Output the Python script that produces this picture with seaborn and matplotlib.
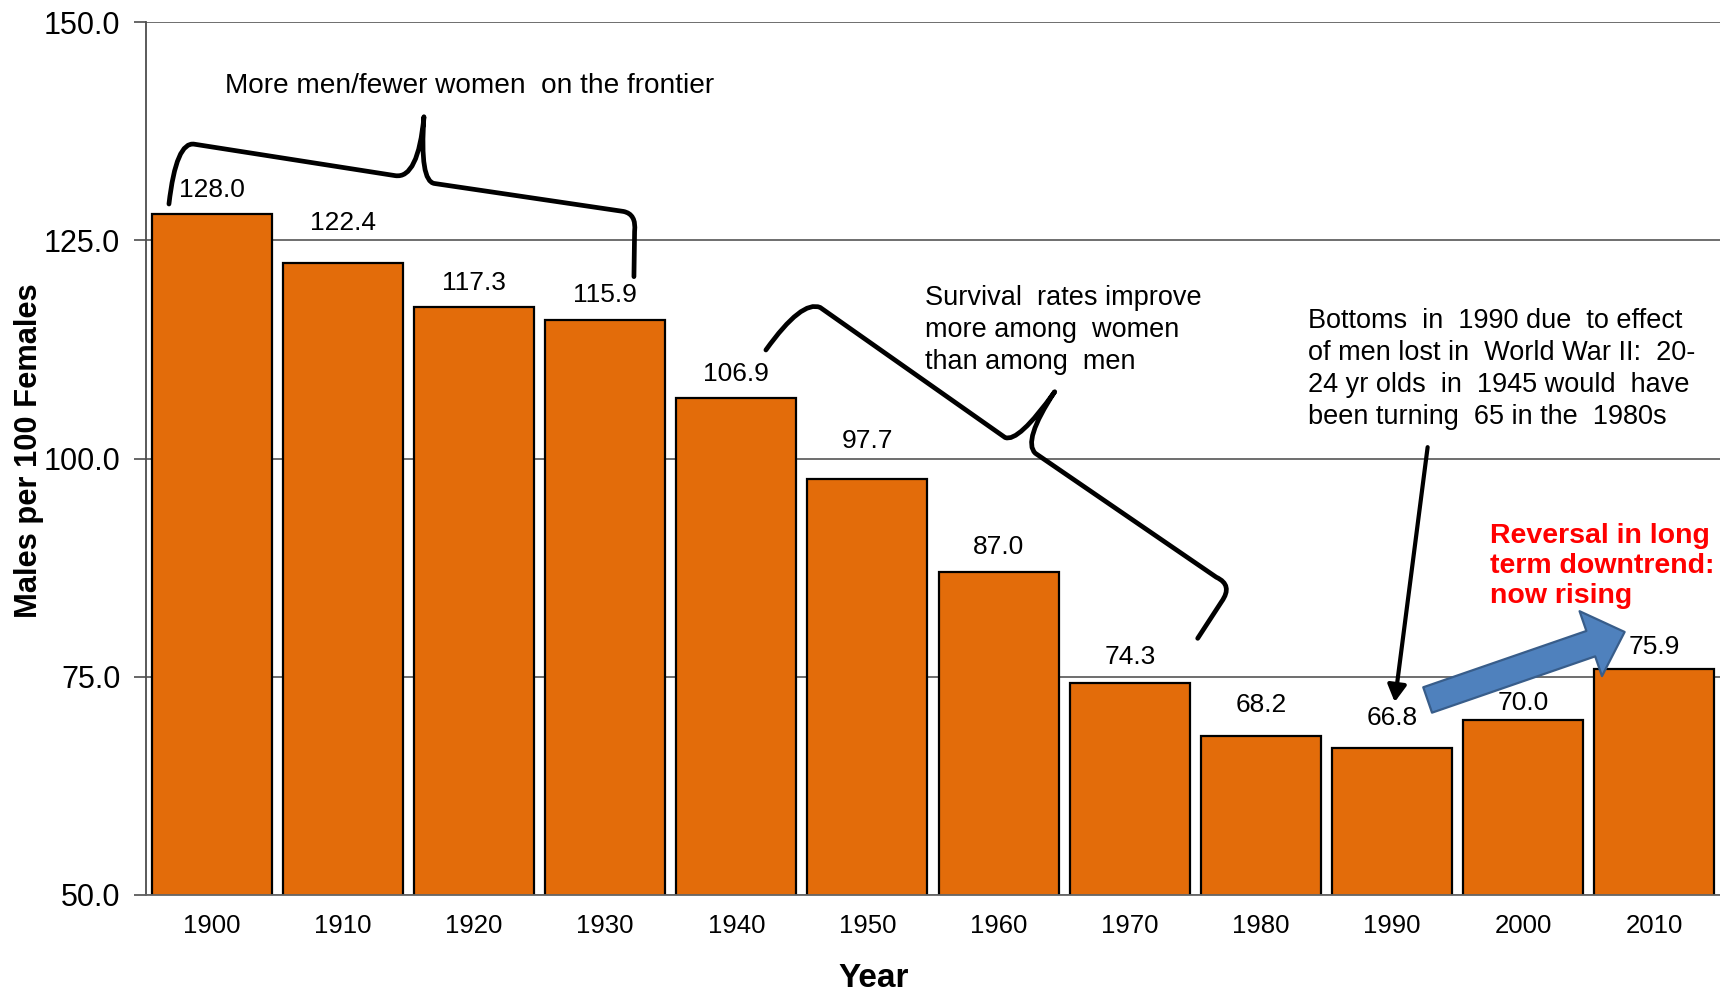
import matplotlib
matplotlib.use("Agg")
import matplotlib.pyplot as plt
from matplotlib.path import Path
from matplotlib.patches import PathPatch
import seaborn as sns
import pandas as pd

# Sex ratio of the 65+ population, males per 100 females
years = ["1900", "1910", "1920", "1930", "1940", "1950",
         "1960", "1970", "1980", "1990", "2000", "2010"]
males_per_100_females = [128.0, 122.4, 117.3, 115.9, 106.9, 97.7,
                         87.0, 74.3, 68.2, 66.8, 70.0, 75.9]
y_ticks = [50.0, 75.0, 100.0, 125.0, 150.0]

# Vertical lift of each value label above its bar (pixels)
label_lift = [24, 40, 24, 25, 24, 38, 25, 26, 31, 30, 17, 22]

sns.set_theme(style="white")
plt.rcParams["font.family"] = ["Liberation Sans", "DejaVu Sans"]
plt.rcParams.update({"text.color": "black", "axes.labelcolor": "black",
                     "xtick.labelcolor": "black", "ytick.labelcolor": "black"})

df = pd.DataFrame({"Year": years, "Ratio": males_per_100_females})

fig = plt.figure(figsize=(17.2, 9.91), dpi=100)
ax = fig.add_axes([146 / 1720, 1 - 895 / 991, (1720 - 146) / 1720, (895 - 22) / 991])

sns.barplot(data=df, x="Year", y="Ratio", ax=ax, color="#E36C0A",
            saturation=1, width=0.915, edgecolor="black", linewidth=1.6)
ax.set_ylim(50, 150)
ax.set_xlim(-0.5, len(years) - 0.5)
ax.set_yticks(y_ticks)
ax.set_yticklabels([f"{v:.1f}" for v in y_ticks], fontsize=22)
ax.tick_params(axis="y", length=9, width=1.2, color="#4d4d4d", pad=9.5, left=True,
               labelcolor="black")
ax.tick_params(axis="x", length=0, pad=14, labelsize=18.5, labelcolor="black")
ax.yaxis.grid(True, color="#555555", linewidth=1.2)
ax.set_axisbelow(True)
for side in ("top", "right"):
    ax.spines[side].set_visible(False)
ax.spines["left"].set_color("#4d4d4d")
ax.spines["left"].set_linewidth(1.3)
ax.spines["bottom"].set_color("#666666")
ax.spines["bottom"].set_linewidth(1.3)

ax.set_ylabel("Males per 100 Females", fontsize=22.2, fontweight="bold", color="black")
ax.yaxis.label.set_va("center")
ax.yaxis.set_label_coords(-0.0745, 0.509)
ax.set_xlabel("Year", fontsize=24, fontweight="bold", color="black")
ax.xaxis.label.set_va("center")
ax.xaxis.set_label_coords(0.4625, -0.0951)

# Value labels above bars
for i, (v, lift) in enumerate(zip(males_per_100_females, label_lift)):
    ax.annotate(f"{v:.1f}", xy=(i, v), xytext=(0, lift * 0.72),
                textcoords="offset points", ha="center", va="center",
                fontsize=19, color="black")

Q, L, M = Path.CURVE3, Path.LINETO, Path.MOVETO

# Curly brace over the early decades
brace1 = Path(
    [(-0.325, 129.15), (-0.27, 136.4), (-0.13, 136.0),
     (1.40, 132.4), (1.575, 132.0), (1.619, 139.15),
     (1.585, 131.7), (1.70, 131.5),
     (3.14, 128.3), (3.24, 128.0), (3.225, 126.0),
     (3.22, 120.83)],
    [M, Q, Q, L, Q, Q, Q, Q, L, Q, Q, L])
ax.add_patch(PathPatch(brace1, fill=False, lw=3.4, ec="black",
                       capstyle="round", joinstyle="round", clip_on=False))
ax.text(0.10, 142.7, "More men/fewer women  on the frontier", fontsize=20.2,
        ha="left", va="center", color="black")

# Curly brace over the mid-century decline
brace2 = Path(
    [(4.226, 112.43), (4.50, 118.2), (4.64, 117.3),
     (6.05, 102.4), (6.15, 101.8), (6.428, 107.65),
     (6.18, 102.0), (6.28, 100.6),
     (7.66, 86.4), (7.79, 85.5), (7.70, 83.6),
     (7.518, 79.4)],
    [M, Q, Q, L, Q, Q, Q, Q, L, Q, Q, L])
ax.add_patch(PathPatch(brace2, fill=False, lw=3.4, ec="black",
                       capstyle="round", joinstyle="round", clip_on=False))
ax.text(5.44, 114.7, "Survival  rates improve\nmore among  women\nthan among  men",
        fontsize=19.5, ha="left", va="center", linespacing=1.3, color="black")

# World War II note with pointer to the 1990 low
ax.text(8.357, 110.25,
        "Bottoms  in  1990 due  to effect\nof men lost in  World War II:  20-\n"
        "24 yr olds  in  1945 would  have\nbeen turning  65 in the  1980s",
        fontsize=19.5, ha="left", va="center", linespacing=1.3, color="black")
ax.annotate("", xy=(9.02, 72.1), xytext=(9.271, 101.3),
            arrowprops=dict(arrowstyle="-|>,head_length=0.5,head_width=0.28", lw=3,
                            color="black", mutation_scale=20, shrinkA=0, shrinkB=0))

# Recent reversal
ax.text(9.75, 87.7, "Reversal in long\nterm downtrend:\nnow rising",
        fontsize=20.5, fontweight="bold", color="#FF0000",
        ha="left", va="center", linespacing=1.2)
ax.annotate("", xy=(10.773, 80.13), xytext=(9.271, 72.34),
            arrowprops=dict(arrowstyle="simple,head_length=0.6,head_width=1.15,tail_width=0.45",
                            mutation_scale=43, fc="#4F81BD", ec="#385D8A", lw=1.6,
                            shrinkA=0, shrinkB=0))

fig.savefig("out.png", dpi=100)
